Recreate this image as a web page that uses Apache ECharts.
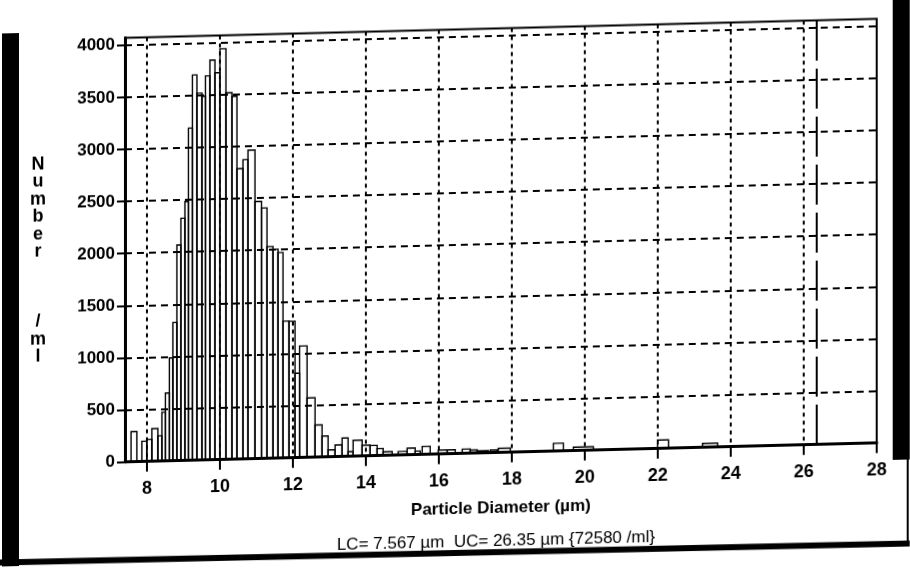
<!DOCTYPE html>
<html>
<head>
<meta charset="utf-8">
<script src="https://cdn.jsdelivr.net/npm/echarts@6/dist/echarts.min.js"></script>
<style>
  html, body { margin: 0; padding: 0; background: #fff; overflow: hidden; }
  #chart {
    width: 910px; height: 573px;
    transform: skewY(-1.45deg);
    transform-origin: 455px 286.5px;
  }
</style>
</head>
<body>
<div id="chart"></div>
<script>
// Particle size histogram: channel lower edge, upper edge (µm) and count per ml
const binFrom = [
  7.567, 7.863, 8.000, 8.137, 8.302, 8.412, 8.508, 8.617, 8.713, 8.823,
  8.933, 9.043, 9.139, 9.248, 9.372, 9.509, 9.605, 9.728, 9.866, 10.003,
  10.167, 10.332, 10.469, 10.634, 10.771, 10.963, 11.141, 11.292, 11.457, 11.594,
  11.731, 11.896, 12.060, 12.184, 12.390, 12.609, 12.801, 12.966, 13.158, 13.350,
  13.514, 13.652, 13.899, 14.118, 14.310, 14.475, 14.886, 15.133, 15.353, 15.545,
  15.984, 16.231, 16.642, 16.861, 17.053, 17.410, 17.630, 19.139, 19.687, 21.992,
  23.226
];
const binTo = [
  7.726, 8.000, 8.137, 8.302, 8.412, 8.508, 8.617, 8.713, 8.823, 8.933,
  9.043, 9.139, 9.248, 9.372, 9.509, 9.605, 9.728, 9.866, 10.003, 10.167,
  10.332, 10.469, 10.634, 10.771, 10.963, 11.141, 11.292, 11.457, 11.594, 11.731,
  11.896, 12.060, 12.184, 12.390, 12.609, 12.801, 12.966, 13.158, 13.350, 13.514,
  13.652, 13.899, 14.118, 14.310, 14.475, 14.722, 15.133, 15.353, 15.490, 15.764,
  16.231, 16.450, 16.861, 17.053, 17.355, 17.602, 17.959, 19.413, 20.236, 22.294,
  23.638
];
const counts = [
  290, 195, 211, 313, 243, 468, 652, 987, 1327, 2070,
  2325, 2485, 3188, 3697, 3522, 3490, 3685, 3835, 3712, 3942,
  3518, 3482, 2787, 2872, 2962, 2468, 2404, 2032, 2006, 1972,
  1312, 1310, 810, 1070, 570, 309, 201, 66, 112, 177,
  45, 152, 102, 99, 67, 35, 34, 64, 34, 77,
  38, 38, 41, 30, 20, 25, 40, 75, 33, 80,
  37
];

// Axis ticks
const xTicks = [8, 10, 12, 14, 16, 18, 20, 22, 24, 26, 28];
const yTicks = [0, 500, 1000, 1500, 2000, 2500, 3000, 3500, 4000];

// Counting limits and total
const lowerCut = 7.567;
const upperCut = 26.35;
const totalPerMl = 72580;

const axisFont = '"Liberation Sans Narrow", "Liberation Sans", Arial, sans-serif';

const histData = binFrom.map((f, i) => [f, binTo[i], counts[i]]);

const chart = echarts.init(document.getElementById('chart'), null, { renderer: 'canvas' });

chart.setOption({
  backgroundColor: '#fff',
  animation: false,
  grid: {
    left: 125, right: 33, top: 29.5, bottom: 119.35,
    show: true, borderColor: '#000', borderWidth: 2, backgroundColor: 'transparent'
  },
  xAxis: {
    type: 'value',
    min: 7.4, max: 28,
    axisLine: { show: true, onZero: false, lineStyle: { color: '#000', width: 3 } },
    axisTick: { show: true, length: 10, customValues: xTicks, lineStyle: { color: '#000', width: 2 } },
    axisLabel: {
      customValues: xTicks, margin: 18, color: '#000',
      fontFamily: axisFont, fontSize: 18, fontWeight: 'bold',
      formatter: v => String(v)
    },
    splitLine: { show: true, lineStyle: { color: '#000', width: 2, type: [4, 4] } },
    name: 'Particle Diameter (µm)',
    nameLocation: 'middle',
    nameGap: 47,
    nameTextStyle: { color: '#000', fontFamily: axisFont, fontSize: 17, fontWeight: 'bold' }
  },
  yAxis: {
    type: 'value',
    min: 0, max: 4070,
    axisLine: { show: true, onZero: false, lineStyle: { color: '#000', width: 3 } },
    axisTick: { show: true, length: 8, customValues: yTicks, lineStyle: { color: '#000', width: 2 } },
    axisLabel: {
      customValues: yTicks, margin: 10, color: '#000',
      fontFamily: axisFont, fontSize: 17, fontWeight: 'bold',
      formatter: v => String(v)
    },
    splitLine: { show: true, lineStyle: { color: '#000', width: 2, type: [7, 5] } }
  },
  series: [{
    type: 'custom',
    data: histData,
    encode: { x: [0, 1], y: 2 },
    clip: true,
    renderItem: function (params, api) {
      const p0 = api.coord([api.value(0), api.value(2)]);
      const p1 = api.coord([api.value(1), 0]);
      return {
        type: 'rect',
        shape: { x: p0[0], y: p0[1], width: p1[0] - p0[0], height: p1[1] - p0[1] },
        style: { fill: 'none', stroke: '#000', lineWidth: 1.4 }
      };
    },
    markLine: {
      silent: true,
      symbol: 'none',
      label: { show: false },
      lineStyle: { color: '#000', width: 2, type: [40, 8] },
      data: [{ xAxis: upperCut }]
    }
  }],
  graphic: [
    {
      type: 'text', x: 38, y: 145,
      style: {
        text: 'N\nu\nm\nb\ne\nr\n \n \n \n/\nm\nl',
        fill: '#000', font: 'bold 18px "Liberation Sans Narrow", "Liberation Sans", Arial, sans-serif',
        lineHeight: 17.5, align: 'center'
      }
    },
    {
      type: 'text', x: 496, y: 542,
      style: {
        text: 'LC= ' + lowerCut + ' µm  UC= ' + upperCut + ' µm {' + totalPerMl + ' /ml}',
        fill: '#000', font: '17px "Liberation Sans Narrow", "Liberation Sans", Arial, sans-serif',
        align: 'center', verticalAlign: 'middle'
      }
    },
    // scanned page edges
    { type: 'rect', shape: { x: 2, y: 22, width: 17, height: 533 }, style: { fill: '#000' } },
    { type: 'rect', shape: { x: 893, y: 0, width: 17, height: 471 }, style: { fill: '#000' } },
    { type: 'rect', shape: { x: 907, y: 471, width: 2, height: 84 }, style: { fill: '#000' } },
    { type: 'polygon', shape: { points: [[0, 548], [910, 552], [910, 558], [0, 554]] }, style: { fill: '#000' } }
  ]
});
</script>
</body>
</html>
